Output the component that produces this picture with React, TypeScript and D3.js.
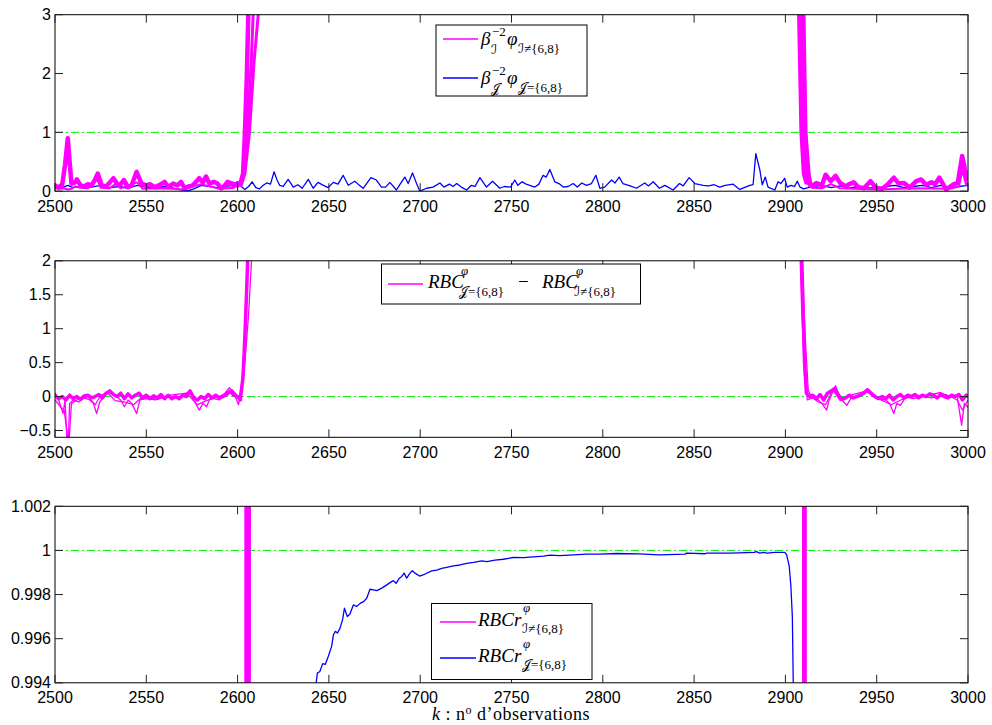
import React from 'react';
import * as d3 from 'd3';

type P = [number, number];

const X_TICKS = [2500, 2550, 2600, 2650, 2700, 2750, 2800, 2850, 2900, 2950, 3000];
const Y1_TICKS = [0, 1, 2, 3];
const Y2_TICKS = [-0.5, 0, 0.5, 1, 1.5, 2];
const Y3_TICKS = [0.994, 0.996, 0.998, 1, 1.002];

// ---- Panel 1 : beta^-2 phi ----
const phiJ: P[] = [
  [2500,0.08],[2503,0.05],[2507,0.1],[2510,0.06],[2515,0.09],[2520,0.07],[2525,0.1],[2530,0.06],[2535,0.08],[2540,0.05],
  [2545,0.1],[2550,0.07],[2555,0.05],[2560,0.08],[2565,0.05],[2570,0.02],[2573,0.01],[2576,0.04],[2580,0.1],[2585,0.08],
  [2590,0.05],[2595,0.09],[2600,0.16],[2602,0.08],[2604,0.03],[2606,0.08],[2608,0.16],[2610,0.06],[2612,0.04],[2614,0.1],
  [2616,0.14],[2618,0.12],[2620,0.33],[2621.5,0.2],[2623,0.1],[2625,0.08],[2627.7,0.2],[2630.5,0.07],[2633,0.11],[2635.4,0.05],
  [2638.7,0.2],[2641.4,0.05],[2644,0.15],[2647,0.1],[2649.6,0.06],[2652.4,0.15],[2655,0.12],[2657.8,0.27],[2660.6,0.1],[2664.2,0.17],
  [2666,0.12],[2668.8,0.05],[2673,0.23],[2676,0.19],[2678.8,0.07],[2681,0.07],[2683.4,0.15],[2687,0.02],[2689,0.12],[2691.6,0.24],
  [2693.4,0.13],[2695.8,0.31],[2698,0.13],[2699.8,0.0],[2703.5,0.05],[2707,0.07],[2710.8,0.14],[2713,0.07],[2716,0.12],[2718,0.08],
  [2720,0.13],[2723,0.06],[2725.4,0.02],[2728,0.1],[2730,0.08],[2732.7,0.23],[2736.3,0.07],[2739.6,0.17],[2743.6,0.05],[2746,0.08],
  [2749.5,0.07],[2751.8,0.19],[2753.5,0.1],[2755.8,0.16],[2758,0.12],[2762.8,0.07],[2765,0.12],[2767.3,0.27],[2769,0.24],[2771,0.37],
  [2773.7,0.16],[2776,0.13],[2778.3,0.07],[2781,0.08],[2783.8,0.13],[2786,0.07],[2788.5,0.14],[2791,0.1],[2793.8,0.13],[2796.2,0.27],
  [2798.4,0.05],[2801,0.07],[2804.8,0.19],[2806.7,0.14],[2809,0.24],[2811,0.13],[2815,0.09],[2818.4,0.05],[2823,0.14],[2825,0.09],
  [2827.6,0.16],[2831,0.05],[2834,0.1],[2838.5,0.02],[2842,0.13],[2844,0.09],[2847.3,0.23],[2850.4,0.13],[2853,0.11],[2855,0.1],
  [2858,0.09],[2861,0.11],[2864,0.07],[2867,0.1],[2871.4,0.12],[2875,0.03],[2880.5,0.1],[2882.3,0.11],[2883.8,0.64],[2886,0.36],
  [2887.3,0.11],[2889,0.24],[2890.5,0.07],[2894.2,0.02],[2896,0.16],[2897.5,0.13],[2899.6,0.22],[2901,0.07],[2903,0.1],[2905,0.08],
  [2906.5,0.17],[2908,0.07],[2910,0.04],[2915,0.08],[2920,0.1],[2925,0.06],[2930,0.09],[2935,0.05],[2940,0.08],[2945,0.06],
  [2950,0.05],[2955,0.08],[2960,0.1],[2965,0.06],[2970,0.08],[2975,0.1],[2980,0.06],[2985,0.1],[2990,0.05],[2995,0.08],[3000,0.1],
];
const phiI_a: P[] = [
  [2500,0.1],[2502,0.06],[2504,0.12],[2505.5,0.45],[2507,0.9],[2508,0.5],[2509,0.13],[2511,0.15],[2512,0.2],[2514,0.1],
  [2516,0.08],[2518,0.12],[2520,0.1],[2522,0.2],[2523.4,0.3],[2525.6,0.1],[2528,0.08],[2530,0.15],[2532,0.22],[2534.6,0.1],
  [2536,0.12],[2537.7,0.19],[2540,0.07],[2542,0.1],[2544.7,0.33],[2547.4,0.13],[2550,0.1],[2552,0.12],[2554.6,0.07],[2557,0.1],
  [2560,0.16],[2562,0.07],[2564.7,0.13],[2567,0.1],[2569,0.16],[2571,0.05],[2573,0.08],[2575.5,0.1],[2579,0.22],[2581,0.15],
  [2582.7,0.25],[2584.5,0.13],[2587,0.16],[2589,0.13],[2591,0.05],[2592.5,0.08],[2594.5,0.16],[2597,0.13],[2600,0.1],[2601.8,0.16],
  [2603,0.3],[2604,1.0],[2605,1.9],[2606,3.2],[2608,6],[2612,12],[2905,12],[2906.5,5],[2907.6,3],[2908.9,1.0],
  [2910.2,0.3],[2911.5,0.15],[2912.1,0.17],[2914.8,0.08],[2917,0.14],[2920,0.1],[2922,0.28],[2924.8,0.17],[2927.5,0.26],[2930,0.14],
  [2933,0.08],[2935,0.12],[2937.4,0.15],[2940,0.07],[2943,0.05],[2946.6,0.17],[2949.4,0.06],[2953,0.04],[2955.8,0.11],[2959.4,0.23],
  [2962,0.13],[2965,0.14],[2968,0.06],[2971.7,0.17],[2974.4,0.2],[2977,0.11],[2980,0.15],[2982,0.12],[2984.3,0.23],[2988,0.03],
  [2991.7,0.11],[2994.4,0.14],[2996.8,0.6],[2998,0.43],[2999,0.2],[3000,0.31],
];
const phiI_b: P[] = [
  [2596,0.1],[2598,0.14],[2600,0.08],[2602,0.15],[2603.5,0.3],[2605.3,1.0],[2607.5,2.2],[2608.5,3.0],[2610,5],[2612,10],
  [2904,10],[2907,4.5],[2909,3],[2910.1,1.0],[2911.6,0.3],[2913,0.1],[2915,0.12],
];
const phiI_c: P[] = [
  [2597,0.06],[2600,0.12],[2602,0.1],[2604,0.3],[2606.5,1.0],[2609,2.2],[2611.3,3.0],[2613,5],[2615,10],
  [2904,10],[2908,6],[2910.2,3],[2911.3,1.0],[2913,0.3],[2914,0.12],[2916,0.1],
];
const phiI_dLeft: P[] = [
  [2500,0.05],[2503,0.04],[2505,0.05],[2507,0.03],[2509,0.04],[2511,0.08],[2514,0.06],[2518,0.05],[2521,0.12],[2523,0.2],
  [2525,0.06],[2530,0.05],[2533,0.12],[2536,0.05],[2545,0.15],[2548,0.04],[2560,0.05],[2570,0.03],[2580,0.12],[2590,0.04],
  [2598,0.06],
];
const phiI_dRight: P[] = [
  [2915,0.06],[2920,0.05],[2925,0.12],[2930,0.05],[2950,0.03],[2970,0.05],[2990,0.04],[2995,0.08],[2997,0.35],[2999,0.1],[3000,0.15],
];

// ---- Panel 2 : RBC difference ----
const rbcA: P[] = [
  [2500,0.02],[2502,-0.03],[2504,0.0],[2506,-0.05],[2508,0.02],[2510,-0.03],[2512,0.0],[2514,-0.04],[2516,0.01],[2518,0.02],
  [2520,-0.02],[2522,0.0],[2524,0.03],[2526,-0.02],[2528,0.05],[2530,0.08],[2532,0.03],[2534,0.0],[2536,0.05],[2538,-0.03],
  [2540,0.04],[2542,-0.02],[2544,0.02],[2546,0.05],[2548,-0.02],[2550,0.02],[2552,-0.03],[2554,0.01],[2556,-0.02],[2558,0.03],
  [2560,-0.03],[2562,0.02],[2564,-0.03],[2566,0.0],[2568,-0.03],[2570,0.02],[2572,0.0],[2574,0.08],[2576,-0.02],[2578,-0.05],
  [2580,0.0],[2582,-0.03],[2584,0.03],[2586,-0.02],[2588,0.02],[2590,-0.02],[2592,0.0],[2594,0.03],[2596,0.08],[2598,0.02],
  [2600,0.0],[2601.5,-0.05],[2603,0.3],[2604,0.9],[2605,1.6],[2606,2.4],[2608,5],[2612,10],[2905,10],[2908,3],
  [2909.5,1.5],[2910.5,0.5],[2911.5,0.05],[2913,0.0],[2915,0.02],[2917,-0.03],[2919,0.03],[2921,-0.05],[2923,0.05],[2925,0.08],
  [2927,0.12],[2929,0.02],[2931,-0.04],[2933,-0.02],[2935,0.02],[2937,-0.02],[2939,0.0],[2941,0.02],[2943,0.05],[2945,0.1],
  [2947,0.05],[2949,0.0],[2951,-0.03],[2953,0.0],[2955,-0.03],[2957,0.02],[2959,-0.05],[2961,0.0],[2963,0.03],[2965,-0.02],
  [2967,0.02],[2969,0.0],[2971,0.03],[2973,-0.02],[2975,0.02],[2977,0.0],[2979,0.04],[2981,0.02],[2983,-0.02],[2985,0.03],
  [2987,0.0],[2989,-0.02],[2991,0.02],[2993,0.0],[2995,0.03],[2997,-0.05],[2999,0.02],[3000,0.0],
];
const rbcB: P[] = [
  [2500,0.05],[2502,-0.05],[2504.4,-0.25],[2505.5,-0.05],[2507,-0.9],[2508,-0.1],[2510,-0.05],[2513,-0.08],[2516,-0.02],[2519,-0.05],
  [2521,-0.1],[2522.8,-0.25],[2524.5,-0.08],[2527,0.0],[2530,0.1],[2533,0.02],[2536,-0.05],[2538,-0.15],[2540,-0.05],[2542,-0.1],
  [2544.7,-0.25],[2546.5,-0.05],[2550,-0.03],[2555,-0.05],[2560,0.0],[2565,-0.02],[2570,0.0],[2574,0.1],[2576,-0.05],[2579,-0.2],
  [2581,-0.1],[2583,-0.15],[2585,-0.02],[2590,-0.05],[2595.5,0.13],[2598,0.05],[2600.5,-0.12],[2602,0.1],[2603.5,0.7],[2605,1.6],
  [2606.5,2.5],[2609,5],[2612,10],[2904,8],[2907,3],[2909,1.2],[2910.5,0.3],[2912,-0.05],[2915,-0.02],[2918,-0.05],
  [2920,-0.1],[2922.6,-0.2],[2924,-0.05],[2927.5,0.16],[2929,0.05],[2931,-0.05],[2933.6,-0.13],[2936,-0.02],[2940,0.0],[2944.6,0.11],
  [2947,0.02],[2950,-0.03],[2955,-0.05],[2957,-0.1],[2959.4,-0.25],[2961,-0.1],[2963,-0.13],[2966,0.0],[2970,-0.03],[2975,0.0],
  [2980,0.03],[2985,0.06],[2990,0.0],[2994,0.02],[2996.5,-0.42],[2998,-0.1],[3000,-0.16],
];
const rbcC: P[] = [
  [2500,-0.05],[2503,-0.15],[2505,-0.2],[2506.5,-0.5],[2507.5,-0.75],[2509,-0.1],[2512,-0.05],[2518,0.0],[2522,-0.12],[2525,0.02],
  [2529,0.05],[2533,-0.06],[2538,-0.08],[2543,-0.12],[2548,0.0],[2556,-0.04],[2563,0.02],[2572,0.05],[2578,-0.12],[2584,-0.05],
  [2590,0.0],[2597,0.1],[2601,-0.02],[2604,0.5],[2606,1.2],[2608,2.2],[2610,4],[2614,10],[2904,10],[2906,6],
  [2909,2.0],[2911,0.8],[2912.5,0.1],[2914,0.0],[2918,-0.08],[2922,-0.12],[2926,0.1],[2930,-0.06],[2936,0.02],[2944,0.08],
  [2950,-0.02],[2958,-0.12],[2964,-0.04],[2972,0.02],[2980,-0.02],[2988,0.03],[2994,-0.05],[2997,-0.2],[3000,-0.05],
];

// ---- Panel 3 : RBCr ----
const rbcrI_a: P[] = [[2500,0.97],[2604.4,0.97],[2604.6,1.03],[2909.8,1.03],[2910.0,0.97],[3000,0.97]];
const rbcrI_b: P[] = [[2500,0.97],[2605.4,0.97],[2605.6,1.03],[2910.3,1.03],[2910.5,0.97],[3000,0.97]];
const rbcrI_c: P[] = [[2500,0.97],[2606.4,0.97],[2606.6,1.03],[2910.8,1.03],[2911.0,0.97],[3000,0.97]];
const rbcrJ: P[] = [
  [2600,0.975],[2620,0.986],[2635,0.9915],[2641,0.9934],[2643,0.99398],[2643.7,0.99445],[2645,0.9945],[2646.6,0.99487],[2648,0.99483],[2649.7,0.9952],
  [2651.5,0.99565],[2652.5,0.99618],[2653.5,0.99633],[2654.7,0.99626],[2656.1,0.99648],[2657.5,0.99686],[2658.5,0.99738],[2660.1,0.997],[2661.5,0.99712],[2663.4,0.99753],
  [2665.2,0.99746],[2667.1,0.9976],[2669,0.99768],[2670.7,0.99783],[2672.5,0.99824],[2674.4,0.99821],[2676.2,0.99818],[2679,0.99829],[2681.7,0.99844],[2683.5,0.99854],
  [2685.3,0.99863],[2686.8,0.99851],[2688.6,0.99874],[2689.9,0.99882],[2691.2,0.99897],[2692.6,0.99874],[2694.4,0.99897],[2695.7,0.99908],[2697.2,0.99897],[2699.6,0.99884],
  [2702.7,0.99893],[2706.3,0.99907],[2709,0.99911],[2711.8,0.99919],[2714.5,0.99923],[2718.2,0.9993],[2721.8,0.99934],[2725.5,0.99941],[2729.2,0.99946],[2733.7,0.99953],
  [2736.5,0.99949],[2741,0.99956],[2745.5,0.9996],[2751,0.99968],[2756.5,0.99967],[2762,0.99971],[2767.5,0.99974],[2771,0.99979],[2776.5,0.99976],[2784,0.9998],
  [2791,0.99983],[2798.5,0.99983],[2807.6,0.99986],[2820,0.99984],[2831,0.9998],[2845,0.99983],[2846,0.99988],[2856,0.99985],[2857,0.99988],[2870,0.99988],
  [2883,0.99991],[2884,0.99995],[2886,0.99988],[2888,0.99991],[2890,0.99988],[2894,0.99991],[2899.7,0.99991],[2900.7,0.9998],[2902.1,0.99928],[2903,0.99838],
  [2903.8,0.99702],[2904.3,0.994],[2906,0.985],[2915,0.96],[3000,0.95],
];

const REF1 = 1;
const REF2 = 0;
const REF3 = 1;

const MAG = '#ff00ff';
const BLUE = '#0000ff';
const GREEN = '#00ee00';
const LEFT = 55;
const RIGHT = 968;
const TICK = 8;
const AXFONT = "'Liberation Sans', Arial, Helvetica, sans-serif";
const MATH = "'Liberation Serif', 'DejaVu Serif', 'DejaVu Sans', serif";
const CAL_I = '\u2110';
const CAL_J = '\uD835\uDCA5';

const x = d3.scaleLinear().domain([2500, 3000]).range([LEFT, RIGHT]);

function fmt(v: number) {
  return String(v).replace('-', '\u2212');
}

type Series = { data: P[]; color: string; width: number };

function Panel(props: {
  id: string; top: number; bottom: number; domain: [number, number]; ticks: number[];
  series: Series[]; refY: number;
}) {
  const { id, top, bottom, domain, ticks, series, refY } = props;
  const y = d3.scaleLinear().domain(domain).range([bottom, top]);
  const line = d3.line<P>().x(d => x(d[0])).y(d => y(d[1]));
  return (
    <g>
      <defs>
        <clipPath id={id}>
          <rect x={LEFT} y={top} width={RIGHT - LEFT} height={bottom - top} />
        </clipPath>
      </defs>
      <g clipPath={`url(#${id})`}>
        <line x1={LEFT} x2={RIGHT} y1={y(refY)} y2={y(refY)} stroke={GREEN} strokeWidth={1}
          strokeDasharray="8,3,2,3" />
        {series.map((s, i) => (
          <path key={i} d={line(s.data) || ''} fill="none" stroke={s.color} strokeWidth={s.width}
            strokeLinejoin="round" strokeLinecap="round" />
        ))}
      </g>
      <rect x={LEFT} y={top} width={RIGHT - LEFT} height={bottom - top} fill="none" stroke="#000" strokeWidth={1} />
      {X_TICKS.map(t => (
        <g key={t}>
          <line x1={x(t)} x2={x(t)} y1={bottom} y2={bottom - TICK} stroke="#222" />
          <line x1={x(t)} x2={x(t)} y1={top} y2={top + TICK} stroke="#222" />
          <text x={x(t)} y={bottom + 20.5} textAnchor="middle" fontFamily={AXFONT} fontSize={16} fill="#000">{t}</text>
        </g>
      ))}
      {ticks.map(t => (
        <g key={t}>
          <line x1={LEFT} x2={LEFT + TICK} y1={y(t)} y2={y(t)} stroke="#222" />
          <line x1={RIGHT} x2={RIGHT - TICK} y1={y(t)} y2={y(t)} stroke="#222" />
          <text x={LEFT - 4} y={y(t) + 5.5} textAnchor="end" fontFamily={AXFONT} fontSize={16} fill="#000">{fmt(t)}</text>
        </g>
      ))}
    </g>
  );
}

function T(p: { x: number; y: number; s: number; it?: boolean; children: any }) {
  return (
    <text x={p.x} y={p.y} fontSize={p.s} fontFamily={MATH} fontStyle={p.it ? 'italic' : 'normal'} fill="#000">
      {p.children}
    </text>
  );
}

function BetaEntry(props: { ly: number; color: string; cal: string; rel: string }) {
  const { ly, color, cal, rel } = props;
  return (
    <g>
      <line x1={443} x2={478} y1={ly} y2={ly} stroke={color} strokeWidth={1.3} />
      <T x={481} y={ly + 6} s={19} it>β</T>
      <T x={492} y={ly - 3} s={13}>{'\u22122'}</T>
      <T x={491} y={ly + 15} s={13}>{cal}</T>
      <T x={507} y={ly + 6} s={19} it>φ</T>
      <T x={518} y={ly + 14} s={13}>{cal + rel + '{6,8}'}</T>
    </g>
  );
}

function RbcrEntry(props: { ly: number; color: string; cal: string; rel: string }) {
  const { ly, color, cal, rel } = props;
  return (
    <g>
      <line x1={440} x2={476} y1={ly} y2={ly} stroke={color} strokeWidth={1.3} />
      <T x={478} y={ly + 4} s={19} it>RBCr</T>
      <T x={523} y={ly - 10} s={13} it>φ</T>
      <T x={522} y={ly + 11} s={13}>{cal + rel + '{6,8}'}</T>
    </g>
  );
}

export default function App() {
  return (
    <svg width={992} height={725} style={{ position: 'absolute', left: 0, top: 0, background: '#fff' }}>
      <rect x={0} y={0} width={992} height={725} fill="#fff" />
      <Panel id="c1" top={14.7} bottom={191.2} domain={[0, 3]} ticks={Y1_TICKS} refY={REF1}
        series={[
          { data: phiJ, color: BLUE, width: 1.3 },
          { data: phiI_dLeft, color: MAG, width: 2 },
          { data: phiI_dRight, color: MAG, width: 2 },
          { data: phiI_c, color: MAG, width: 3 },
          { data: phiI_b, color: MAG, width: 3 },
          { data: phiI_a, color: MAG, width: 4.5 },
        ]} />
      <Panel id="c2" top={260.8} bottom={437.3} domain={[-0.6, 2]} ticks={Y2_TICKS} refY={REF2}
        series={[
          { data: rbcC, color: MAG, width: 1.3 },
          { data: rbcB, color: MAG, width: 1.3 },
          { data: rbcA, color: MAG, width: 3.5 },
        ]} />
      <Panel id="c3" top={506.3} bottom={682.8} domain={[0.994, 1.002]} ticks={Y3_TICKS} refY={REF3}
        series={[
          { data: rbcrJ, color: BLUE, width: 1.3 },
          { data: rbcrI_a, color: MAG, width: 3 },
          { data: rbcrI_b, color: MAG, width: 3 },
          { data: rbcrI_c, color: MAG, width: 3 },
        ]} />

      {/* Legend 1 */}
      <rect x={436} y={25} width={151} height={71} fill="#fff" stroke="#000" strokeWidth={1} />
      <BetaEntry ly={39} color={MAG} cal={CAL_I} rel={'\u2260'} />
      <BetaEntry ly={78} color={BLUE} cal={CAL_J} rel={'='} />

      {/* Legend 2 */}
      <rect x={381.5} y={264} width={259} height={40} fill="#fff" stroke="#000" strokeWidth={1} />
      <line x1={388} x2={423} y1={284} y2={284} stroke={MAG} strokeWidth={1.3} />
      <T x={428} y={288} s={19} it>RBC</T>
      <T x={461} y={274.5} s={13} it>φ</T>
      <T x={459} y={296} s={13}>{CAL_J + '={6,8}'}</T>
      <T x={518} y={288} s={19}>{'\u2212'}</T>
      <T x={542} y={288} s={19} it>RBC</T>
      <T x={576} y={274.5} s={13} it>φ</T>
      <T x={574} y={296} s={13}>{CAL_I + '\u2260{6,8}'}</T>

      {/* Legend 3 */}
      <rect x={431.5} y={603.5} width={160.5} height={76} fill="#fff" stroke="#000" strokeWidth={1} />
      <RbcrEntry ly={622} color={MAG} cal={CAL_I} rel={'\u2260'} />
      <RbcrEntry ly={658} color={BLUE} cal={CAL_J} rel={'='} />

      {/* x label */}
      <text x={511} y={720} textAnchor="middle" fontFamily={MATH} fontSize={18} letterSpacing={0.5} fill="#000">
        <tspan fontStyle="italic">k</tspan>
        <tspan>{' : n'}</tspan>
        <tspan dy={-6} fontSize={12}>o</tspan>
        <tspan dy={6}>{' d\u2019observations'}</tspan>
      </text>
    </svg>
  );
}
